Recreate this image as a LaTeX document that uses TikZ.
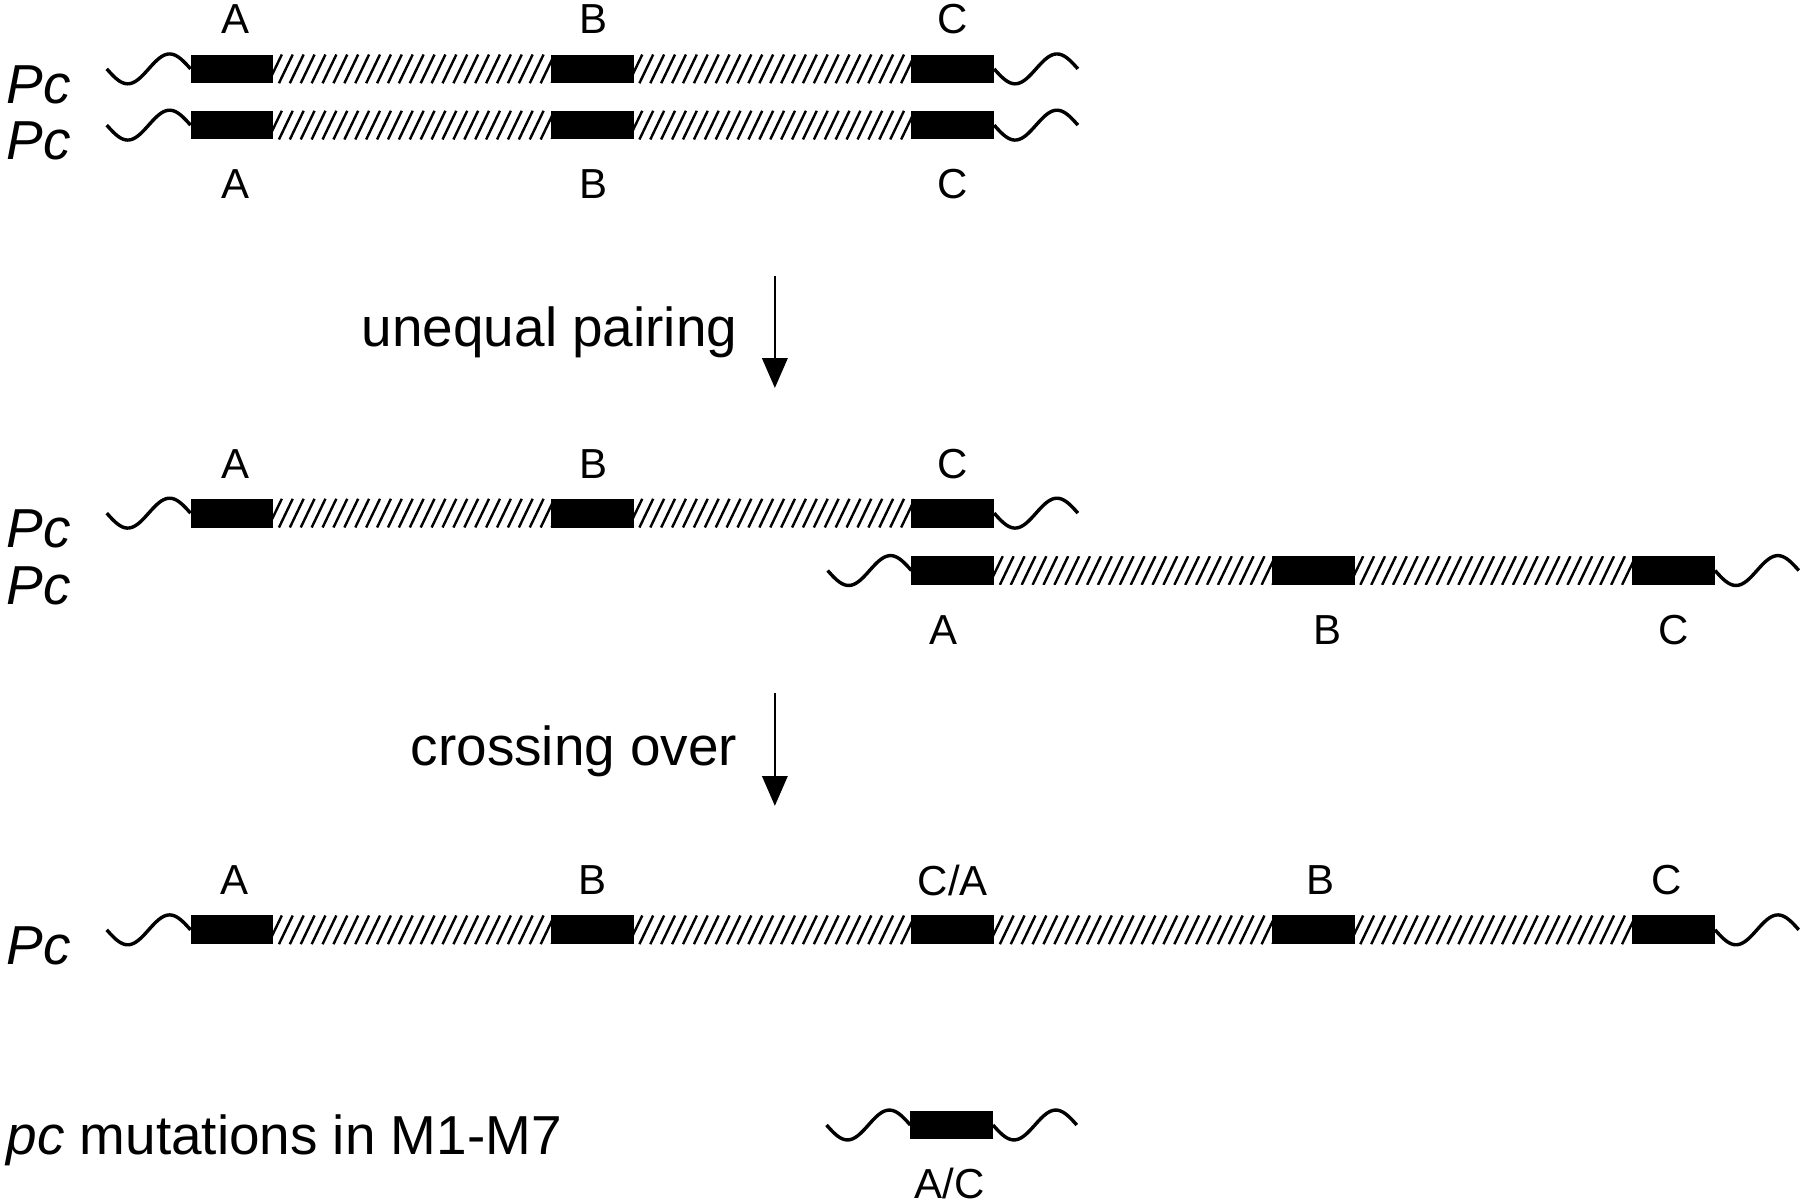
\documentclass[tikz,border=0pt]{standalone}
\usepackage{fontspec}
\setmainfont{Liberation Sans}
\usetikzlibrary{arrows.meta}
\newcommand\hatchrun[3]{% x1, x2, yc
  \pgfmathsetmacro\hxa{#1}\pgfmathsetmacro\hxb{#2}\pgfmathsetmacro\hyc{#3}
  \begin{scope}
    \clip (\hxa,\hyc-12.5) rectangle (\hxb,\hyc+12.5);
    \foreach \k in {0,...,28}{
      \draw[hatchline] ({\hxa-14+9.5*\k},{\hyc+12.5}) -- ({\hxa-2+9.5*\k},{\hyc-12.5});
    }
  \end{scope}}
\newcommand\wavebit[2]{% x start, yc
  \pgfmathsetmacro\wxs{#1}\pgfmathsetmacro\wyc{#2}
  \draw[waveline] plot[domain=0:1,samples=50] ({\wxs+73*\x},{\wyc+13*sin(360*\x)});}
\newcommand\chromrow[4]{% yc, first box x, number of boxes, name prefix
  \foreach \i in {1,...,#3}{
    \node[blk] (#4\i) at ({#2+314*(\i-1)},#1) {};
  }
  \ifnum#3>1
  \foreach \i in {2,...,#3}{
    \hatchrun{#2+314*(\i-2)+72}{#2+314*(\i-1)}{#1}
  }
  \fi
  \wavebit{#2-73}{#1}
  \wavebit{#2+314*(#3-1)+72}{#1}
}
\begin{document}
\begin{tikzpicture}[x=0.01cm,y=-0.01cm,
  blk/.style={fill=black, draw=none, anchor=west, minimum width=0.72cm, minimum height=0.25cm, inner sep=0pt, outer sep=0pt},
  hatchline/.style={line width=0.6pt},
  waveline/.style={line width=0.85pt},
  lbl/.style={font=\fontsize{10.4pt}{12pt}\selectfont, inner sep=0pt},
  big/.style={font=\fontsize{13.6pt}{16pt}\selectfont, inner sep=0pt},
  arr/.style={line width=0.65pt, -{Triangle[length=0.26cm,width=0.22cm]}}]
\useasboundingbox (0,0) rectangle (1568,1048);
% row 1 and 2
\chromrow{60}{166}{3}{ra}
\chromrow{109}{166}{3}{rb}
\node[big, anchor=base west] (pc1) at (5,90) {\itshape Pc};
\node[big, anchor=base west] (pc2) at (5,139) {\itshape Pc};
\node[lbl] (la1) at (205,17) {A};
\node[lbl] (lb1) at (517,17) {B};
\node[lbl] (lc1) at (830,17) {C};
\node[lbl] (la2) at (205,160) {A};
\node[lbl] (lb2) at (517,160) {B};
\node[lbl] (lc2) at (830,160) {C};
% arrow 1
\coordinate (a1s) at (675,240);
\coordinate (a1e) at (675,338);
\draw[arr] (a1s) -- (a1e);
\node[big, anchor=base east] (t1) at (643,302) {unequal pairing};
% rows 3 and 4
\chromrow{447}{166}{3}{rc}
\chromrow{497}{794}{3}{rd}
\node[big, anchor=base west] (pc3) at (5,477) {\itshape Pc};
\node[big, anchor=base west] (pc4) at (5,527) {\itshape Pc};
\node[lbl] (la3) at (205,404) {A};
\node[lbl] (lb3) at (517,404) {B};
\node[lbl] (lc3) at (830,404) {C};
\node[lbl] (la4) at (822,549) {A};
\node[lbl] (lb4) at (1156,549) {B};
\node[lbl] (lc4) at (1458,549) {C};
% arrow 2
\coordinate (a2s) at (675,604);
\coordinate (a2e) at (675,702);
\draw[arr] (a2s) -- (a2e);
\node[big, anchor=base east] (t2) at (643,667) {crossing over};
% row 5
\chromrow{810}{166}{5}{re}
\node[big, anchor=base west] (pc5) at (5,840) {\itshape Pc};
\node[lbl] (la5) at (204,767) {A};
\node[lbl] (lb5) at (516,767) {B};
\node[lbl] (lca5) at (830,767) {C/A};
\node[lbl] (lb6) at (1150,767) {B};
\node[lbl] (lc6) at (1452,767) {C};
% row 6
\chromrow{980}{793}{1}{rf}
\node[big, anchor=base west] (mut) at (5,1006) {\textit{pc} mutations in M1-M7};
\node[lbl] (lac) at (827,1031) {A/C};
\end{tikzpicture}
\end{document}
